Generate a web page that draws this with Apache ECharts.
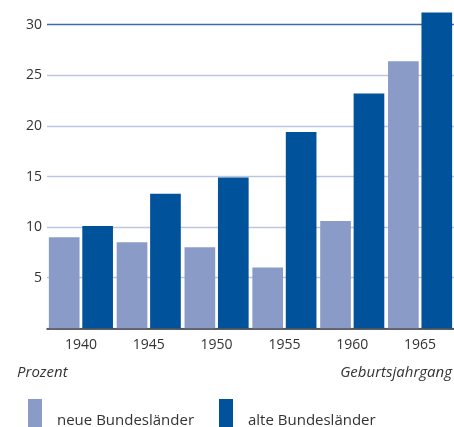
<!DOCTYPE html>
<html><head><meta charset="utf-8">
<script src="https://cdn.jsdelivr.net/npm/echarts@6/dist/echarts.min.js"></script>
<style>html,body{margin:0;padding:0;background:#fff}#c{width:454px;height:427px}</style>
</head><body><div id="c"></div>
<script>
const categories = ['1940','1945','1950','1955','1960','1965'];
const neueBundeslaender = [9.0, 8.5, 8.0, 6.0, 10.6, 26.4];
const alteBundeslaender = [10.1, 13.3, 14.9, 19.4, 23.2, 31.2];
const seriesNames = ['neue Bundesländer', 'alte Bundesländer'];
const yTicks = [0, 5, 10, 15, 20, 25, 30];

const FONT = '"Open Sans", sans-serif';
const chart = echarts.init(document.getElementById('c'), null, {renderer: 'canvas'});
const light = '#bcc6e0', dark = '#3d6aad';
chart.setOption({
  animation: false,
  grid: {left: 47, right: 0, top: 4.5, bottom: 98.7, containLabel: false},
  xAxis: {
    type: 'category', data: categories,
    axisLine: {lineStyle: {color: '#333', width: 1.5}},
    axisTick: {show: false},
    axisLabel: {color: '#333', fontFamily: FONT, fontSize: 14, margin: 10}
  },
  yAxis: {
    type: 'value', min: 0, max: 32, interval: 5,
    axisLine: {show: false}, axisTick: {show: false},
    axisLabel: {color: '#333', fontFamily: FONT, fontSize: 14, margin: 5, showMaxLabel: false,
      formatter: v => (yTicks.indexOf(v) > 0 ? String(v) : '')},
    splitLine: {show: true, showMaxLine: false,
      lineStyle: {width: 1.3, color: [light, light, light, light, light, light, dark, 'rgba(0,0,0,0)']}}
  },
  legend: [
    {data: [seriesNames[0]], left: 23, top: 394, itemWidth: 14, itemHeight: 44, icon: 'rect',
     textStyle: {fontFamily: FONT, fontSize: 15, color: '#333', padding: [0, 0, 0, 10]}},
    {data: [seriesNames[1]], left: 214, top: 394, itemWidth: 14, itemHeight: 44, icon: 'rect',
     textStyle: {fontFamily: FONT, fontSize: 15, color: '#333', padding: [0, 0, 0, 10]}}
  ],
  graphic: [
    {type: 'text', left: 17, top: 365, style: {text: 'Prozent', fontFamily: FONT, fontSize: 15, fontStyle: 'italic', fill: '#333'}},
    {type: 'text', right: 2, top: 365, style: {text: 'Geburtsjahrgang', fontFamily: FONT, fontSize: 15, fontStyle: 'italic', fill: '#333'}}
  ],
  series: [
    {name: seriesNames[0], type: 'bar', data: neueBundeslaender, itemStyle: {color: '#8a9bc8'},
     barGap: '9%', barCategoryGap: '5.5%'},
    {name: seriesNames[1], type: 'bar', data: alteBundeslaender, itemStyle: {color: '#00529b'},
     barGap: '9%', barCategoryGap: '5.5%'}
  ]
});
</script></body></html>
